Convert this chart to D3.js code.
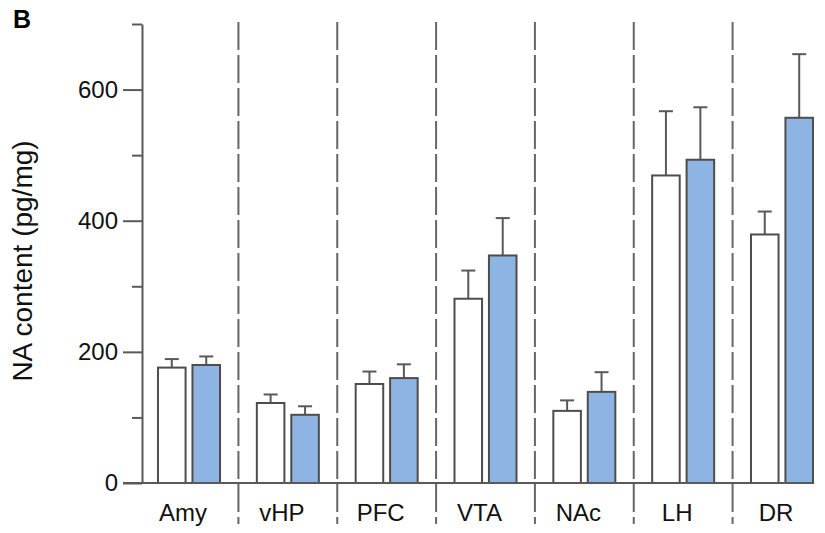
<!DOCTYPE html>
<html>
<head>
<meta charset="utf-8">
<script src="https://cdn.jsdelivr.net/npm/d3@7"></script>
<style>
  body { margin: 0; background: #fff; }
  svg { display: block; font-family: "Liberation Sans", Arial, sans-serif; }
</style>
</head>
<body>
<svg width="825" height="533"></svg>
<script>
// regions on the x axis
const regions = ["Amy", "vHP", "PFC", "VTA", "NAc", "LH", "DR"];
const series = ["white", "blue"];
// mean values (pg/mg)
const whiteMeans = [176, 122, 151, 281, 110, 469, 379];
const blueMeans = [180, 104, 160, 347, 139, 493, 557];
// top of the error bars
const whiteErrTop = [189, 135, 170, 324, 126, 567, 414];
const blueErrTop = [193, 117, 181, 404, 169, 573, 654];
const majorTicks = [0, 200, 400, 600];
const minorTicks = [100, 300, 500, 700];

const svg = d3.select("svg");
const axisColor = "#595959";

const x = d3.scaleBand().domain(regions).range([139.6, 831.4]);
const xSub = d3.scaleBand().domain(series).range([-31, 31]).paddingInner(0.2);
const y = d3.scaleLinear().domain([0, 700]).range([483, 24]);

const rows = regions.map((r, i) => ({
    region: r,
    values: [
        { key: "white", mean: whiteMeans[i], top: whiteErrTop[i], fill: "#ffffff" },
        { key: "blue", mean: blueMeans[i], top: blueErrTop[i], fill: "#8db4e2" }
    ]
}));

// dashed separators between regions
svg.append("g")
    .selectAll("line")
    .data(regions.slice(1))
    .join("line")
    .attr("x1", d => x(d))
    .attr("x2", d => x(d))
    .attr("y1", 22)
    .attr("y2", 524)
    .attr("stroke", "#666")
    .attr("stroke-width", 2)
    .attr("stroke-dasharray", "28,5");

const groups = svg.append("g")
    .selectAll("g")
    .data(rows)
    .join("g")
    .attr("transform", d => `translate(${x(d.region) + x.bandwidth() / 2},0)`);

// error bars (drawn first, bars cover the lower part)
groups.selectAll("line.err")
    .data(d => d.values)
    .join("line")
    .attr("class", "err")
    .attr("x1", d => xSub(d.key) + xSub.bandwidth() / 2)
    .attr("x2", d => xSub(d.key) + xSub.bandwidth() / 2)
    .attr("y1", d => y(d.mean))
    .attr("y2", d => y(d.top))
    .attr("stroke", axisColor)
    .attr("stroke-width", 2);

groups.selectAll("line.cap")
    .data(d => d.values)
    .join("line")
    .attr("class", "cap")
    .attr("x1", d => xSub(d.key) + xSub.bandwidth() / 2 - 7)
    .attr("x2", d => xSub(d.key) + xSub.bandwidth() / 2 + 7)
    .attr("y1", d => y(d.top))
    .attr("y2", d => y(d.top))
    .attr("stroke", axisColor)
    .attr("stroke-width", 2);

groups.selectAll("rect")
    .data(d => d.values)
    .join("rect")
    .attr("x", d => xSub(d.key))
    .attr("y", d => y(d.mean))
    .attr("width", xSub.bandwidth())
    .attr("height", d => y(0) - y(d.mean))
    .attr("fill", d => d.fill)
    .attr("stroke", "#4d4d4d")
    .attr("stroke-width", 2);

// x axis line and labels
svg.append("line")
    .attr("x1", 123)
    .attr("x2", 812)
    .attr("y1", y(0))
    .attr("y2", y(0))
    .attr("stroke", axisColor)
    .attr("stroke-width", 2);

svg.append("g")
    .selectAll("text")
    .data(regions)
    .join("text")
    .attr("x", d => x(d) + x.bandwidth() / 2 - 6)
    .attr("y", 521)
    .attr("text-anchor", "middle")
    .attr("font-size", 24)
    .attr("fill", "#111")
    .text(d => d);

// y axis: minor ticks then major with labels
const yMinor = svg.append("g")
    .attr("transform", "translate(142,0)")
    .call(d3.axisLeft(y).tickValues(minorTicks).tickSize(10).tickFormat(""));
yMinor.select(".domain").remove();

const yAxis = svg.append("g")
    .attr("transform", "translate(142,0)")
    .call(d3.axisLeft(y).tickValues(majorTicks).tickSize(19).tickSizeOuter(0).tickPadding(5));

svg.selectAll(".tick line").attr("stroke", axisColor).attr("stroke-width", 2);
yAxis.select(".domain").attr("stroke", axisColor).attr("stroke-width", 2);
yAxis.selectAll(".tick text")
    .attr("font-size", 24)
    .attr("fill", "#111")
    .attr("font-family", "Liberation Sans, Arial, sans-serif");

// y axis title
svg.append("text")
    .attr("transform", "translate(32,261) rotate(-90)")
    .attr("text-anchor", "middle")
    .attr("font-size", 28)
    .attr("fill", "#111")
    .text("NA content (pg/mg)");

// panel letter
svg.append("text")
    .attr("x", 13)
    .attr("y", 28)
    .attr("font-size", 25)
    .attr("font-weight", "bold")
    .attr("fill", "#000")
    .text("B");
</script>
</body>
</html>
